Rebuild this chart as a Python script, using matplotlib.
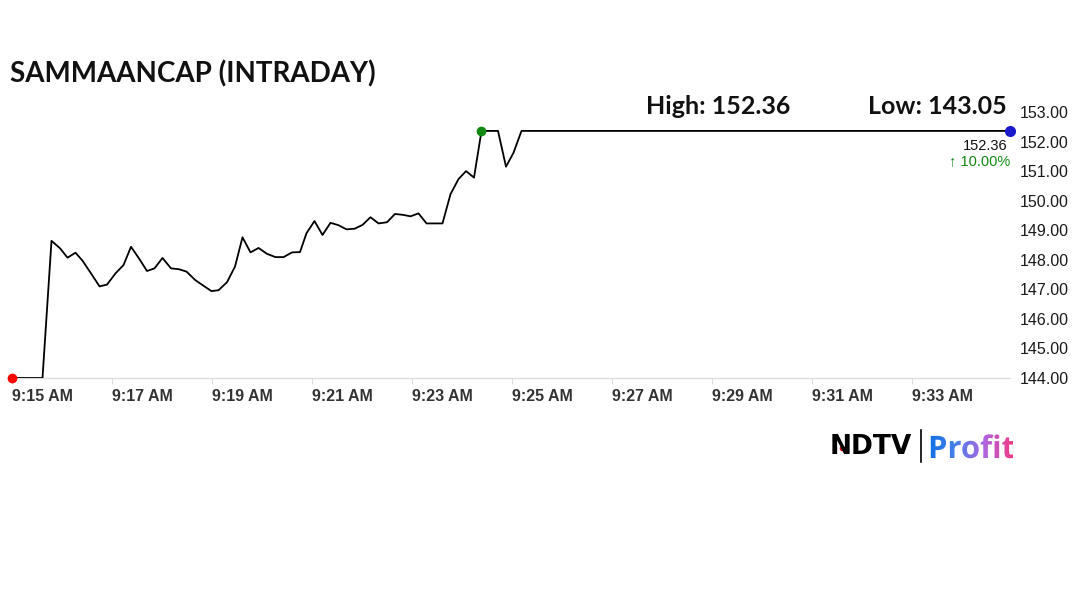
import numpy as np
import matplotlib.pyplot as plt
from matplotlib.textpath import TextPath
from matplotlib.patches import PathPatch
from matplotlib.path import Path
from matplotlib.font_manager import FontProperties
from matplotlib.colors import LinearSegmentedColormap

# data (minutes after 9:15, price)
mins = [0.0, 0.61, 0.79, 0.96, 1.11, 1.27, 1.41, 1.58, 1.75, 1.90, 2.07, 2.23, 2.38,
        2.55, 2.70, 2.85, 3.01, 3.18, 3.34, 3.49, 3.66, 3.83, 3.99, 4.13, 4.30, 4.46,
        4.61, 4.77, 4.93, 5.10, 5.27, 5.43, 5.60, 5.76, 5.89, 6.05, 6.21, 6.37, 6.53,
        6.69, 6.85, 7.01, 7.17, 7.33, 7.50, 7.66, 7.82, 7.97, 8.13, 8.29, 8.45, 8.61,
        8.77, 8.93, 9.08, 9.24, 9.39, 9.56, 9.72, 9.88, 10.03, 10.19, 10.35, 19.96]
price = [144.00, 144.00, 148.64, 148.39, 148.07, 148.24, 147.97, 147.54, 147.10, 147.16,
         147.54, 147.82, 148.44, 148.02, 147.62, 147.71, 148.06, 147.71, 147.68, 147.60,
         147.32, 147.12, 146.94, 146.97, 147.24, 147.77, 148.76, 148.25, 148.40, 148.20,
         148.09, 148.09, 148.25, 148.26, 148.90, 149.31, 148.84, 149.25, 149.17, 149.03,
         149.05, 149.18, 149.44, 149.23, 149.27, 149.55, 149.52, 149.47, 149.57, 149.23,
         149.23, 149.23, 150.22, 150.73, 151.00, 150.78, 152.36, 152.36, 152.36, 151.15,
         151.62, 152.36, 152.36, 152.36]
tick_mins = [0, 2, 4, 6, 8, 10, 12, 14, 16, 18]
tick_labels = ["9:15 AM", "9:17 AM", "9:19 AM", "9:21 AM", "9:23 AM",
               "9:25 AM", "9:27 AM", "9:29 AM", "9:31 AM", "9:33 AM"]
y_ticks = [144, 145, 146, 147, 148, 149, 150, 151, 152, 153]
high = 152.36
low = 143.05
change_pct = 10.00

W, H = 1080, 607
fig = plt.figure(figsize=(W / 100, H / 100), dpi=100)

def fx(px):
    return px / W

def fy(py):
    return 1 - py / H

ax = fig.add_axes([fx(12), fy(378), fx(1010) - fx(12), fy(112) - fy(378)])
ax.plot(mins, price, color="black", lw=1.3, zorder=3)
ax.set_xlim(0, 19.96)
ax.set_ylim(144, 153)

# start / high / last markers
ax.plot(mins[0], price[0], "o", color="#ff0000", ms=6, clip_on=False, zorder=4)
imax = int(np.argmax(price))
ax.plot(mins[imax], price[imax], "o", color="#118811", ms=6, clip_on=False, zorder=4)
ax.plot(mins[-1], price[-1], "o", color="#1a1acc", ms=7, clip_on=False, zorder=4)

for s in ["top", "left", "right"]:
    ax.spines[s].set_visible(False)
ax.spines["bottom"].set_color("#dddddd")
ax.spines["bottom"].set_linewidth(1)

ax.set_xticks(tick_mins)
ax.set_xticklabels(tick_labels, ha="left", fontsize=11.5, fontweight="bold",
                   color="#333333", family="Liberation Sans")
ax.tick_params(axis="x", length=4, color="#dddddd", pad=4)

ax.yaxis.tick_right()
ax.set_yticks(y_ticks)
ax.set_yticklabels([f"{v:.2f}" for v in y_ticks], fontsize=11.5, color="#1a1a1a",
                   family="Liberation Sans")
ax.tick_params(axis="y", length=0, pad=7)

# last price annotation
ax.annotate(f"{price[-1]:.2f}", (mins[-1], price[-1]), xytext=(-2, -11),
            textcoords="offset points", ha="right", va="center", fontsize=10.5,
            family="Liberation Sans", color="#111111")
ax.annotate(f"\u2191 {change_pct:.2f}%", (mins[-1], price[-1]), xytext=(0, -22),
            textcoords="offset points", ha="right", va="center", fontsize=10.5,
            family=["Liberation Sans", "DejaVu Sans"], color="#118811")

# titles
fig.text(fx(10), fy(74), "SAMMAANCAP (INTRADAY)", fontsize=20, fontweight="bold",
         family="Lato", va="center", ha="left", color="#111111")
fig.text(fx(646), fy(106), f"High: {high:.2f}", fontsize=18, fontweight="bold",
         family="Lato", va="center", ha="left", color="#111111")
fig.text(fx(1007), fy(106), f"Low: {low:.2f}", fontsize=18, fontweight="bold",
         family="Lato", va="center", ha="right", color="#111111")

# logo
lax = fig.add_axes([fx(825), fy(470), fx(1020) - fx(825), fy(420) - fy(470)])
lax.axis("off")
lax.text(830, 447, "NDTV", fontsize=19, fontweight="heavy", family="DejaVu Sans",
         va="center", ha="left", color="black")
lax.plot(841.5, 448, "o", color="#e01010", ms=3)
lax.plot([921, 921], [430, 462], color="black", lw=1.2)
tpath = TextPath((0, 0), "Profit", size=31, prop=FontProperties(family="Open Sans", weight="bold"))
v = tpath.vertices.copy()
v[:, 0] += 928
v[:, 1] = 458 - v[:, 1]
patch = PathPatch(Path(v, tpath.codes), facecolor="none", edgecolor="none",
                  transform=lax.transData)
lax.add_patch(patch)
grad = np.linspace(0, 1, 256).reshape(1, -1)
cmap = LinearSegmentedColormap.from_list("profit", ["#0f6fe6", "#4a80ea", "#b064e0", "#f23a86"])
im = lax.imshow(grad, cmap=cmap, extent=[928, 1013, 464, 428], aspect="auto")
im.set_clip_path(patch)
lax.set_xlim(825, 1020)
lax.set_ylim(470, 420)

fig.savefig("out.png", dpi=100, facecolor="white")
